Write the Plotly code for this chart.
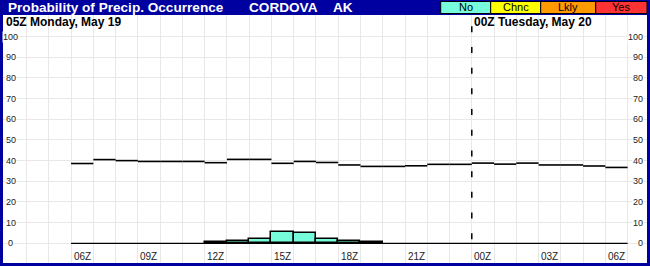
import plotly.graph_objects as go

# ---------------- data ----------------
# hours since 00Z May 19 (24+ = May 20)
hours = list(range(6, 31))
upper_line = [38.6, 40.5, 40.0, 39.6, 39.6, 39.6, 39.0, 40.6, 40.6, 38.7,
              39.6, 39.1, 37.9, 37.2, 37.2, 37.5, 38.2, 38.2, 38.8, 38.3,
              38.8, 37.9, 37.9, 37.4, 36.7]
prob_bars = [0, 0, 0, 0, 0, 0, 0.5, 1.1, 2.3, 5.3,
             4.8, 1.9, 1.1, 0.5, 0, 0, 0, 0, 0, 0,
             0, 0, 0, 0, 0]
xtick_hours = [6, 9, 12, 15, 18, 21, 24, 27, 30]
xtick_labels = ["06Z", "09Z", "12Z", "15Z", "18Z", "21Z", "00Z", "03Z", "06Z"]
ytick_vals = [0, 10, 20, 30, 40, 50, 60, 70, 80, 90, 100]
legend_labels = ["No", "Chnc", "Lkly", "Yes"]
legend_colors = ["#76FCDB", "#FFFF00", "#FF9A00", "#FF3333"]
title_text = "Probability of Precip. Occurrence"
station = "CORDOVA"
state = "AK"
day1_label = "05Z Monday, May 19"
day2_label = "00Z Tuesday, May 20"
day_break = 24

FRAME = "#0000A0"
FONT = "Arial, Liberation Sans, sans-serif"
W, H = 650, 266
ML, MR, MT, MB = 3, 3, 15, 3
PW, PH = W - ML - MR, H - MT - MB


def px_x(px):
    return (px - ML) / PW


def px_y(py):
    return (H - MB - py) / PH


fig = go.Figure()

# bars (only non-zero hours drawn; the baseline covers the rest)
bx = [h + 0.5 for h, v in zip(hours, prob_bars) if v > 0]
by = [v for v in prob_bars if v > 0]
fig.add_trace(go.Bar(
    x=bx, y=by, width=1, base=0,
    marker=dict(color=legend_colors[0], line=dict(color="black", width=1.5)),
    hoverinfo="skip", showlegend=False))

# baseline
fig.add_trace(go.Scatter(
    x=[hours[0], hours[-1] + 1], y=[0, 0], mode="lines",
    line=dict(color="black", width=1.3), hoverinfo="skip", showlegend=False))

# step line without vertical connectors
sx, sy = [], []
for h, v in zip(hours, upper_line):
    sx += [h, h + 1, None]
    sy += [v, v, None]
fig.add_trace(go.Scatter(
    x=sx, y=sy, mode="lines", line=dict(color="black", width=1.6),
    connectgaps=False, hoverinfo="skip", showlegend=False))

# day break dashed line
fig.add_shape(type="line", xref="x", yref="y", x0=day_break, x1=day_break,
              y0=105, y1=0, line=dict(color="black", width=1.5, dash="6px,14.7px"))

annotations = []
# title bar
for txt, xp in [(title_text, 5.5), (station, 247), (state, 331)]:
    annotations.append(dict(text=txt, x=px_x(xp), y=px_y(7.3), xref="paper", yref="paper",
                            xanchor="left", yanchor="middle", showarrow=False,
                            font=dict(family=FONT, size=13.6, color="white", weight="bold")))

# legend boxes
box_edges = [440.7, 490.7, 540.7, 595.7, 647]
for i, (lab, col) in enumerate(zip(legend_labels, legend_colors)):
    x0, x1 = box_edges[i], box_edges[i + 1]
    fig.add_shape(type="rect", xref="paper", yref="paper",
                  x0=px_x(x0), x1=px_x(x1), y0=px_y(13.5), y1=px_y(1.5),
                  fillcolor=col, line=dict(color="black", width=1), layer="above")
    annotations.append(dict(text=lab, x=px_x((x0 + x1) / 2), y=px_y(7.5), xref="paper", yref="paper",
                            xanchor="center", yanchor="middle", showarrow=False,
                            font=dict(family=FONT, size=11, color="black")))

# day labels
annotations.append(dict(text=day1_label, x=px_x(3.5), y=px_y(21.5), xref="paper", yref="paper",
                        xanchor="left", yanchor="middle", showarrow=False,
                        font=dict(family=FONT, size=12, color="black", weight="bold")))
annotations.append(dict(text=day2_label, x=day_break, xshift=0.5, y=px_y(21.5), xref="x", yref="paper",
                        xanchor="left", yanchor="middle", showarrow=False,
                        font=dict(family=FONT, size=12, color="black", weight="bold")))

# x tick labels (left-aligned at gridline)
for h, lab in zip(xtick_hours, xtick_labels):
    annotations.append(dict(text=lab, x=h, xshift=0.5, y=px_y(256.5), xref="x", yref="paper",
                            xanchor="left", yanchor="middle", showarrow=False,
                            font=dict(family=FONT, size=10, color="#222222")))

# y tick labels both sides
for v in ytick_vals:
    annotations.append(dict(text=str(v), x=px_x(10.5), y=v, xref="paper", yref="y",
                            xanchor="center", yanchor="middle", showarrow=False,
                            bgcolor="white", borderpad=0,
                            font=dict(family=FONT, size=9, color="#222222")))
    annotations.append(dict(text=str(v), x=px_x(643.8), y=v, xref="paper", yref="y",
                            xanchor="right", yanchor="middle", showarrow=False,
                            bgcolor="white", borderpad=0,
                            font=dict(family=FONT, size=9, color="#222222")))

fig.update_layout(
    width=W, height=H,
    margin=dict(l=ML, r=MR, t=MT, b=MB, pad=0),
    paper_bgcolor=FRAME, plot_bgcolor="white",
    annotations=annotations,
    bargap=0,
    xaxis=dict(range=[2.9407, 31.871], tickvals=list(range(4, 32)), showticklabels=False,
               showgrid=True, gridcolor="#E8E8E8", gridwidth=1, zeroline=False,
               showline=False, ticks="", fixedrange=True),
    yaxis=dict(range=[-9.53, 110.45], tickvals=ytick_vals, showticklabels=False,
               showgrid=True, gridcolor="#E8E8E8", gridwidth=1, zeroline=False,
               showline=False, ticks="", fixedrange=True),
)

fig.write_html("out.html")
